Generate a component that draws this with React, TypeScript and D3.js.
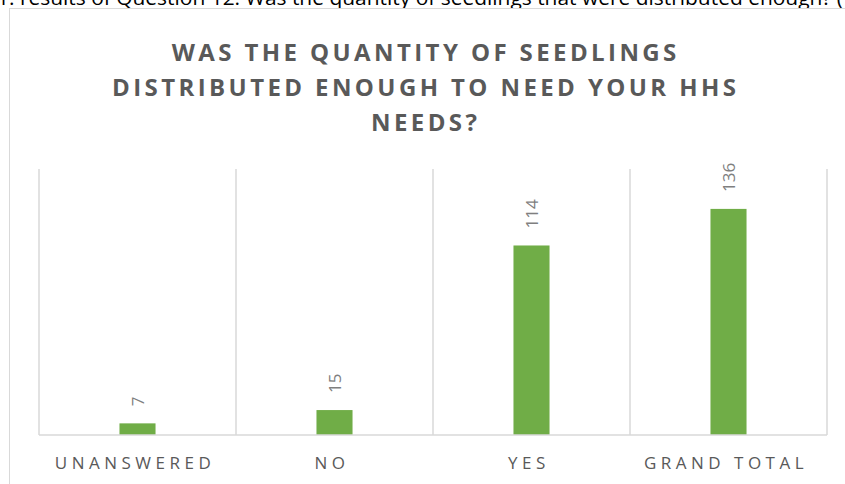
import React from "react";
import * as d3 from "d3";

// Survey answers for Question 12
const categories: string[] = ["UNANSWERED", "NO", "YES", "GRAND TOTAL"];
const counts: number[] = [7, 15, 114, 136];
const yTicks: number[] = [0, 160];

const titleLines: string[] = [
  "WAS THE QUANTITY OF SEEDLINGS",
  "DISTRIBUTED ENOUGH TO NEED YOUR HHS",
  "NEEDS?",
];
const caption =
  "1. results of Question 12: Was the quantity of seedlings that were distributed enough? (";

const W = 845;
const H = 484;
const plot = { left: 39, right: 827, top: 169, bottom: 435 };

export default function App() {
  const x = d3
    .scaleBand<string>()
    .domain(categories)
    .range([plot.left, plot.right])
    .paddingInner(0)
    .paddingOuter(0);
  const y = d3
    .scaleLinear()
    .domain([yTicks[0], yTicks[yTicks.length - 1]])
    .range([plot.bottom, plot.top]);

  const barW = x.bandwidth() * 0.183;
  const boundaries = [...categories.map((c) => x(c) as number), plot.right];

  return (
    <svg
      width={W}
      height={H}
      style={{ position: "absolute", left: 0, top: 0, background: "#fff" }}
    >
      {/* document caption line above the chart, partly cut off */}
      <text
        x={-3}
        y={5}
        fontFamily="Open Sans, sans-serif"
        fontSize={20}
        fill="#000"
        textLength={846}
        lengthAdjust="spacingAndGlyphs"
      >
        {caption}
      </text>

      {/* chart frame */}
      <rect x={9.5} y={8.5} width={W + 20} height={H + 20} fill="#fff" stroke="#d9d9d9" strokeWidth={1} />

      {/* title */}
      {titleLines.map((line, i) => (
        <text
          key={i}
          x={424 + 1.7}
          y={61 + i * 35}
          textAnchor="middle"
          fontFamily="Open Sans, sans-serif"
          fontWeight={700}
          fontSize={24}
          letterSpacing={3.4}
          fill="#595959"
        >
          {line}
        </text>
      ))}

      {/* vertical gridlines at category boundaries */}
      {boundaries.map((bx, i) => (
        <line
          key={i}
          x1={bx}
          x2={bx}
          y1={y(yTicks[yTicks.length - 1])}
          y2={y(0)}
          stroke="#d9d9d9"
          strokeWidth={1.5}
        />
      ))}

      {/* bars */}
      {categories.map((c, i) => {
        const cx = (x(c) as number) + x.bandwidth() / 2;
        return (
          <rect
            key={c}
            x={cx - barW / 2}
            y={y(counts[i])}
            width={barW}
            height={y(0) - y(counts[i])}
            fill="#70ad47"
          />
        );
      })}

      {/* category axis line */}
      <line x1={plot.left} x2={plot.right} y1={y(0)} y2={y(0)} stroke="#d9d9d9" strokeWidth={1.5} />

      {/* value labels, rotated */}
      {categories.map((c, i) => {
        const cx = (x(c) as number) + x.bandwidth() / 2;
        const ly = y(counts[i]) - 17;
        return (
          <text
            key={c}
            transform={`translate(${cx},${ly}) rotate(-90)`}
            dy="0.36em"
            textAnchor="start"
            fontFamily="Open Sans, sans-serif"
            fontSize={17}
            fill="#7f7f7f"
          >
            {counts[i]}
          </text>
        );
      })}

      {/* category labels */}
      {categories.map((c) => {
        const cx = (x(c) as number) + x.bandwidth() / 2;
        return (
          <text
            key={c}
            x={cx - 2.5}
            y={469}
            textAnchor="middle"
            fontFamily="Open Sans, sans-serif"
            fontSize={17}
            letterSpacing={4.5}
            fill="#595959"
          >
            {c}
          </text>
        );
      })}
    </svg>
  );
}
